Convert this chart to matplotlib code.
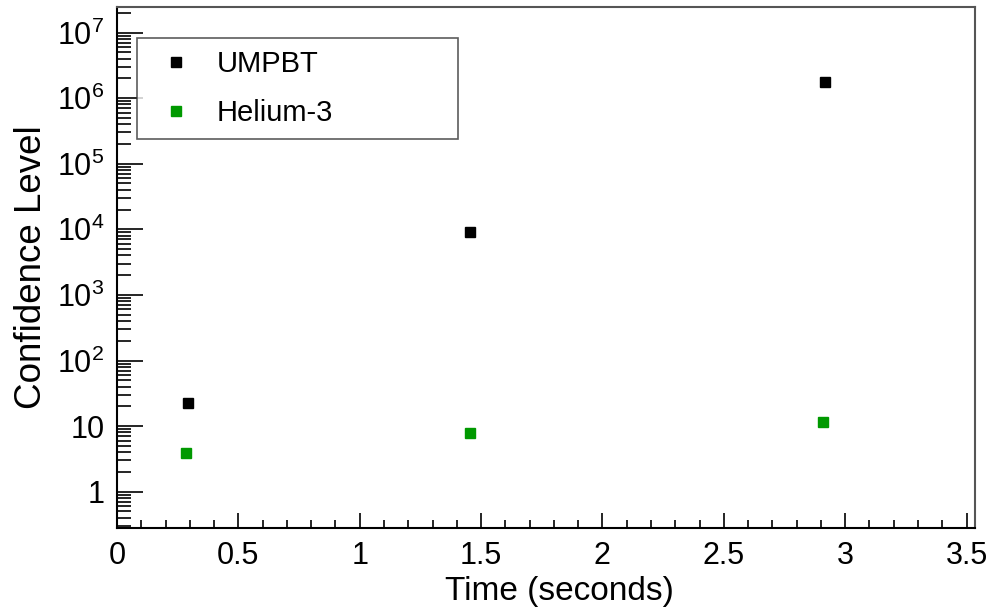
import numpy as np
import matplotlib
matplotlib.use("Agg")
import matplotlib.pyplot as plt
from matplotlib.ticker import FuncFormatter, LogLocator, MultipleLocator

plt.rcParams['font.family'] = ['Liberation Sans', 'DejaVu Sans']
plt.rcParams['mathtext.fontset'] = 'custom'
plt.rcParams['mathtext.rm'] = 'Liberation Sans'
plt.rcParams['mathtext.it'] = 'Liberation Sans'

# data
umpbt_time = [0.291, 1.456, 2.916]
umpbt_conf = [22.5, 9100.0, 1.74e6]
he3_time = [0.286, 1.453, 2.909]
he3_conf = [3.93, 7.76, 11.55]

W, H = 995, 612
fig = plt.figure(figsize=(W / 100, H / 100), dpi=100)
ax = fig.add_axes([117 / W, 1 - 528 / H, (975 - 117) / W, (528 - 7) / H])

ax.plot(umpbt_time, umpbt_conf, linestyle='none', marker='s', markersize=7,
        color='black', label='UMPBT')
ax.plot(he3_time, he3_conf, linestyle='none', marker='s', markersize=7,
        color='#009900', label='Helium-3')

ax.set_yscale('log')
ax.set_xlim(0, 3.535)
ax.set_ylim(0.28, 2.45e7)

ax.xaxis.set_major_locator(MultipleLocator(0.5))
ax.xaxis.set_minor_locator(MultipleLocator(0.1))
ax.xaxis.set_major_formatter(FuncFormatter(lambda v, p: '%g' % v))

ax.yaxis.set_major_locator(LogLocator(base=10, numticks=20))
ax.yaxis.set_minor_locator(LogLocator(base=10, subs=np.arange(2, 10), numticks=20))


def yfmt(v, pos):
    n = int(round(np.log10(v)))
    if n == 0:
        return '1'
    if n == 1:
        return '10'
    return r'$\mathregular{10^{%d}}$' % n


ax.yaxis.set_major_formatter(FuncFormatter(yfmt))

ax.tick_params(axis='both', which='both', direction='in', top=False, right=False,
               labelsize=22, pad=9, color='black', width=1.2)
ax.tick_params(axis='x', which='major', length=11)
ax.tick_params(axis='x', which='minor', length=6)
ax.tick_params(axis='y', which='major', length=19)
ax.tick_params(axis='y', which='minor', length=10)

for s in ['left', 'bottom']:
    ax.spines[s].set_linewidth(1.5)
    ax.spines[s].set_color('black')
for s in ['top', 'right']:
    ax.spines[s].set_linewidth(1.5)
    ax.spines[s].set_color('#555555')

ax.set_xlabel('Time (seconds)', fontsize=24)
ax.set_ylabel('Confidence Level', fontsize=26.5)
ax.xaxis.set_label_coords((559 - 117) / 858, -(576 - 528) / 521)
ax.yaxis.set_label_coords((49 - 117) / 858, 0.5)

# legend box: x 136.7..458, y 38.3..136.7 (figure pixels)
x0, x1, y0, y1 = 136.7, 458, 38.3, 136.7
leg = ax.legend(loc='upper left',
                bbox_to_anchor=(x0 / W, 1 - y1 / H, (x1 - x0) / W, (y1 - y0) / H),
                bbox_transform=fig.transFigure,
                mode='expand', fontsize=21, frameon=True, fancybox=False,
                borderaxespad=0, handletextpad=0.45, labelspacing=0.72,
                borderpad=0.40, handlelength=1.9)
leg.get_frame().set_edgecolor('#333333')
leg.get_frame().set_linewidth(1.2)

fig.savefig('out.png', dpi=100)
